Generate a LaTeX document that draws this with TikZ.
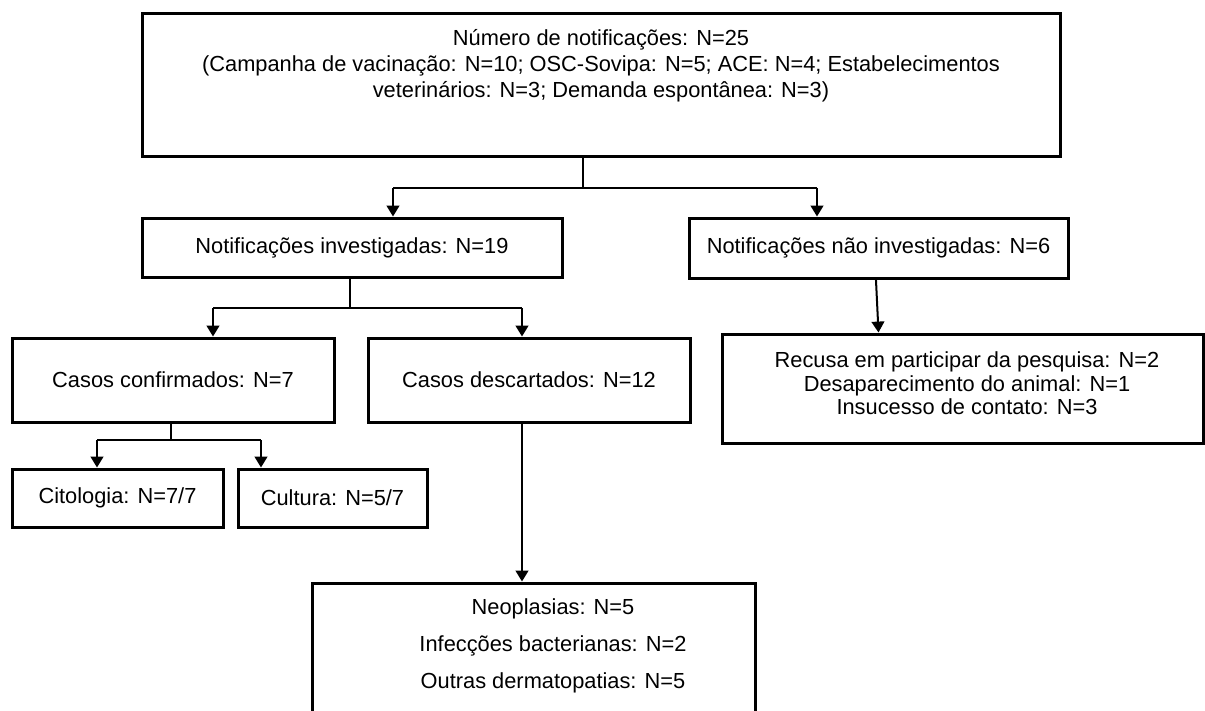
\documentclass[tikz,border=0pt]{standalone}
\usepackage{fontspec}
\setmainfont{Liberation Sans}
\usetikzlibrary{arrows.meta}

\newcommand{\pxu}{0.55pt}

\begin{document}
\begin{tikzpicture}[
  x=0.55pt, y=-0.55pt,
  box/.style={draw,line width=1.65pt,inner sep=0pt},
  link/.style={line width=1.1pt},
  flow/.style={-{Triangle[width=7pt,length=6pt]},line width=1.1pt},
  every node/.append style={font=\fontsize{12}{14.3}\selectfont}
]
  \clip (0,0) rectangle (1205,711);

  % boxes
  \node[box,minimum width=918*\pxu,minimum height=143*\pxu] (top) at (601,85.5) {};
  \node[align=center] (topTxt) at (601,66) {Número de notificações: N=25\\
    (Campanha de vacinação: N=10; OSC-Sovipa: N=5; ACE: N=4; Estabelecimentos\\
    veterinários: N=3; Demanda espontânea: N=3)};
  \node[box,minimum width=420*\pxu,minimum height=59*\pxu] (inv) at (352,247.5) {Notificações investigadas: N=19};
  \node[box,minimum width=379*\pxu,minimum height=60*\pxu] (ninv) at (878.5,248) {Notificações não investigadas: N=6};
  \node[box,minimum width=322*\pxu,minimum height=84*\pxu] (conf) at (173,380) {Casos confirmados: N=7};
  \node[box,minimum width=322*\pxu,minimum height=84*\pxu] (desc) at (529,380) {Casos descartados: N=12};
  \node[box,minimum width=481*\pxu,minimum height=109*\pxu] (rec) at (962.5,388.5) {};
  \node[align=center,font=\fontsize{12}{12.9}\selectfont] (recTxt) at (967,383.5) {Recusa em participar da pesquisa: N=2\\
    Desaparecimento do animal: N=1\\Insucesso de contato: N=3};
  \node[box,minimum width=211*\pxu,minimum height=58*\pxu] (cit) at (117.5,498) {Citologia: N=7/7};
  \node[box,minimum width=189*\pxu,minimum height=58*\pxu] (cul) at (332.5,498) {Cultura: N=5/7};
  \node[box,minimum width=443*\pxu,minimum height=131*\pxu] (bot) at (533.5,648.5) {};
  \node[align=center] (botTxt) at (553,645.5) {Neoplasias: N=5\\[6pt]
    Infecções bacterianas: N=2\\[6pt]Outras dermatopatias: N=5};

  % forks
  \coordinate (fork1) at (583,188);
  \coordinate (fork1l) at (393,188);
  \coordinate (fork1r) at (817,188);
  \coordinate (fork2) at (350,308);
  \coordinate (fork2l) at (213,308);
  \coordinate (fork2r) at (522,308);
  \coordinate (fork3) at (171,440);
  \coordinate (fork3l) at (97,440);
  \coordinate (fork3r) at (261,440);

  \draw[link] (top.south -| fork1) -- (fork1);
  \draw[link] (fork1l) -- (fork1r);
  \draw[flow] (fork1l) -- (inv.north -| fork1l);
  \draw[flow] (fork1r) -- (ninv.north -| fork1r);

  \draw[link] (inv.south -| fork2) -- (fork2);
  \draw[link] (fork2l) -- (fork2r);
  \draw[flow] (fork2l) -- (conf.north -| fork2l);
  \draw[flow] (fork2r) -- (desc.north -| fork2r);

  \draw[link] (conf.south -| fork3) -- (fork3);
  \draw[link] (fork3l) -- (fork3r);
  \draw[flow] (fork3l) -- (cit.north -| fork3l);
  \draw[flow] (fork3r) -- (cul.north -| fork3r);

  \draw[flow] (desc.south -| fork2r) -- (bot.north -| fork2r);
  \draw[flow] ([xshift=-1.4pt]ninv.south) -- (rec.north -| ninv.south);
\end{tikzpicture}
\end{document}
